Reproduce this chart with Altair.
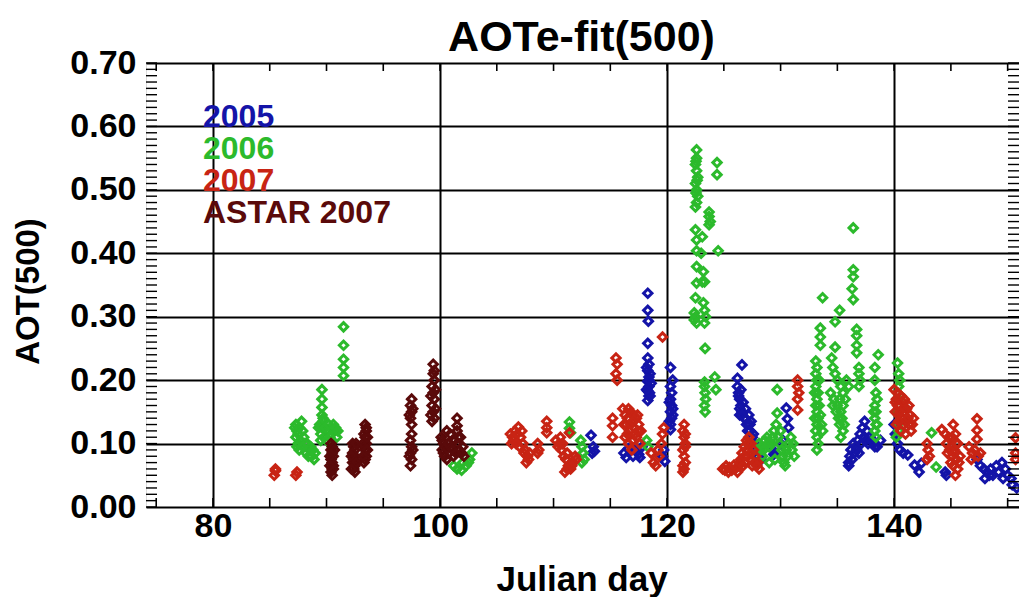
import altair as alt
import pandas as pd

# ---------------- data (Julian day, AOT(500)) ----------------
y2005_day = [113.3, 113.5, 113.6, 113.4,
             116.2, 116.4, 116.6, 117.0, 117.2, 117.5, 117.8, 117.6,
             118.3, 118.3, 118.35, 118.3, 118.3, 118.4, 118.3, 118.4, 118.3, 118.4, 118.3, 118.4, 118.3, 118.5, 118.6, 118.5,
             119.6, 119.7, 119.8,
             120.3, 120.5, 120.3, 120.4, 120.3, 120.4, 120.3, 120.4, 120.3, 120.3,
             126.6, 126.2, 126.2, 126.3, 126.4, 126.5, 126.6, 126.8, 127.0, 127.3, 127.5, 127.7, 127.9, 126.4, 126.9, 127.2, 127.4, 128.0, 128.3,
             129.3, 129.4, 130.5, 130.6, 130.7, 130.0, 130.2,
             136.0, 136.1, 136.2, 136.4, 136.6, 136.8, 137.0, 137.2, 137.4, 137.6, 137.9, 138.2, 138.5, 138.8, 136.5, 137.5, 136.0,
             140.0, 140.1, 140.3, 140.5, 140.8, 141.2, 141.8, 142.4, 142.2,
             144.6, 144.5,
             147.3, 147.6, 147.9, 148.2, 148.0, 148.5, 149.0, 149.5, 149.8, 150.0, 150.4, 150.3, 150.8]
y2005_aot = [0.113, 0.095, 0.088, 0.085,
             0.085, 0.078, 0.092, 0.080, 0.090, 0.083, 0.095, 0.078,
             0.337, 0.310, 0.293, 0.258, 0.235, 0.225, 0.215, 0.205, 0.198, 0.190, 0.183, 0.175, 0.168, 0.210, 0.195, 0.175,
             0.080, 0.090, 0.072,
             0.220, 0.200, 0.190, 0.180, 0.170, 0.160, 0.150, 0.140, 0.130, 0.122,
             0.224, 0.203, 0.190, 0.180, 0.170, 0.160, 0.150, 0.140, 0.130, 0.120, 0.110, 0.100, 0.090, 0.145, 0.155, 0.145, 0.135, 0.080, 0.075,
             0.090, 0.083, 0.156, 0.139, 0.125, 0.100, 0.105,
             0.070, 0.080, 0.090, 0.100, 0.095, 0.105, 0.115, 0.125, 0.135, 0.120, 0.110, 0.100, 0.095, 0.105, 0.085, 0.105, 0.065,
             0.130, 0.115, 0.100, 0.090, 0.085, 0.082, 0.066, 0.069, 0.055,
             0.050, 0.055,
             0.075, 0.065, 0.060, 0.055, 0.045, 0.060, 0.065, 0.070, 0.060, 0.050, 0.035, 0.045, 0.030]
y2005_day_b = [118.2, 118.45, 118.2, 118.4, 120.2, 120.5, 120.2, 120.5,
               126.3, 126.5, 126.7, 126.9, 127.1, 127.3, 127.6, 126.4, 126.6,
               136.3, 136.7, 137.1, 137.3, 137.7, 138.0, 138.3, 136.9,
               148.7, 149.2, 149.6, 148.4]
y2005_aot_b = [0.220, 0.180, 0.185, 0.200, 0.165, 0.155, 0.135, 0.145,
               0.175, 0.185, 0.165, 0.140, 0.120, 0.130, 0.115, 0.155, 0.145,
               0.075, 0.090, 0.100, 0.110, 0.100, 0.105, 0.095, 0.085,
               0.050, 0.055, 0.045, 0.050]

y2006_day = [87.3, 87.4, 87.3, 87.5, 87.6, 87.8, 87.7,
             88.3, 88.5, 88.7, 88.9, 88.6,
             89.6, 89.6, 89.6, 89.6, 89.7, 89.6,
             89.3, 89.5, 89.8, 90.1, 90.4, 90.7, 90.9, 90.5,
             91.5, 91.5, 91.5, 91.5, 91.5,
             101.2, 101.5, 101.9, 102.3, 102.6, 102.8, 102.5, 102.0,
             111.4, 111.4, 111.5, 112.4, 112.5, 112.6, 112.7, 112.5,
             118.2, 118.3,
             122.6, 122.6, 122.5, 122.6, 122.7, 122.5, 122.6, 122.7, 122.6, 122.5,
             124.4, 124.4, 123.7, 123.7, 123.8, 123.7,
             122.5, 122.6, 123.1, 122.6, 123.0, 124.5, 122.6, 123.2, 123.3, 122.6, 123.1, 122.5, 123.2,
             122.4, 122.5, 122.4, 122.6, 123.3, 123.4, 123.3, 123.35,
             123.3, 123.3, 123.35, 123.4, 123.3, 123.35, 124.2, 124.3,
             128.1, 128.2, 128.4, 128.6, 128.8, 129.0, 129.2, 129.4, 129.6, 129.7, 129.7, 129.8, 130.0, 130.2, 130.3, 130.5, 130.7, 130.9, 131.0, 131.2, 129.5, 129.0, 130.4,
             133.1, 133.2, 133.1, 133.2, 133.1, 133.3, 133.2, 133.1, 133.2, 133.3, 133.2, 133.1, 133.2, 133.3, 133.2, 133.6, 133.7, 133.5,
             133.7, 133.5, 133.5, 133.5,
             134.8, 135.2, 134.8, 134.5, 134.6, 134.8, 135.0, 135.3, 135.5, 135.2, 135.0, 135.3, 135.4, 135.2, 135.5, 135.3, 134.4, 134.6, 135.8, 136.0,
             136.4, 136.4, 136.4, 136.3, 136.4, 136.7, 136.7, 136.7, 136.7, 136.9, 136.9, 137.0, 136.9,
             138.6, 138.3, 138.3, 138.4, 138.3, 138.4, 138.3, 138.4, 138.3, 138.4,
             140.3, 140.4, 140.5, 140.4, 140.3, 140.4, 140.2, 140.3, 140.4, 140.2,
             143.3, 143.7]
y2006_aot = [0.130, 0.120, 0.110, 0.100, 0.090, 0.135, 0.105,
             0.100, 0.090, 0.080, 0.075, 0.095,
             0.185, 0.170, 0.157, 0.145, 0.135, 0.125,
             0.125, 0.115, 0.110, 0.120, 0.115, 0.120, 0.110, 0.105,
             0.284, 0.255, 0.233, 0.220, 0.207,
             0.065, 0.060, 0.058, 0.065, 0.075, 0.085, 0.070, 0.070,
             0.134, 0.124, 0.117, 0.105, 0.095, 0.085, 0.075, 0.070,
             0.105, 0.095,
             0.563, 0.550, 0.540, 0.530, 0.520, 0.510, 0.500, 0.490, 0.480, 0.473,
             0.543, 0.524, 0.465, 0.458, 0.450, 0.445,
             0.437, 0.421, 0.426, 0.404, 0.400, 0.404, 0.379, 0.371, 0.355, 0.353, 0.355, 0.330, 0.322,
             0.306, 0.300, 0.295, 0.290, 0.310, 0.300, 0.290, 0.250,
             0.197, 0.190, 0.180, 0.170, 0.160, 0.150, 0.205, 0.185,
             0.100, 0.090, 0.080, 0.105, 0.110, 0.095, 0.100, 0.120, 0.130, 0.148, 0.185, 0.110, 0.120, 0.080, 0.070, 0.090, 0.100, 0.110, 0.090, 0.080, 0.075, 0.070, 0.065,
             0.230, 0.220, 0.210, 0.200, 0.190, 0.180, 0.170, 0.160, 0.150, 0.140, 0.130, 0.120, 0.110, 0.100, 0.090, 0.130, 0.120, 0.145,
             0.330, 0.282, 0.268, 0.255,
             0.292, 0.310, 0.252, 0.235, 0.220, 0.210, 0.200, 0.190, 0.180, 0.170, 0.160, 0.150, 0.140, 0.130, 0.120, 0.110, 0.180, 0.160, 0.200, 0.190,
             0.440, 0.374, 0.363, 0.344, 0.327, 0.280, 0.270, 0.255, 0.243, 0.220, 0.210, 0.200, 0.190,
             0.240, 0.220, 0.200, 0.180, 0.160, 0.150, 0.140, 0.130, 0.120, 0.110,
             0.227, 0.210, 0.200, 0.190, 0.180, 0.170, 0.150, 0.130, 0.120, 0.110,
             0.117, 0.063]
y2006_day_b = [87.2, 87.5, 87.6, 87.9, 88.0, 88.1, 88.2, 88.4, 88.8, 89.0, 87.4, 87.9,
               89.4, 89.7, 89.9, 90.2, 90.6, 90.8, 91.0, 89.5, 90.0, 90.3,
               133.4, 133.4, 133.0, 133.0, 134.9, 135.1, 135.5, 135.6, 134.7, 135.7,
               128.3, 128.9, 129.3, 129.9, 130.1, 130.6, 131.1, 128.5,
               138.5, 138.2, 138.5, 122.55, 122.65, 122.55]
y2006_aot_b = [0.125, 0.115, 0.125, 0.120, 0.110, 0.100, 0.085, 0.080, 0.090, 0.085, 0.095, 0.095,
               0.130, 0.140, 0.125, 0.130, 0.130, 0.125, 0.120, 0.105, 0.105, 0.110,
               0.160, 0.200, 0.140, 0.180, 0.150, 0.140, 0.160, 0.130, 0.170, 0.170,
               0.095, 0.100, 0.110, 0.100, 0.090, 0.080, 0.100, 0.090,
               0.170, 0.150, 0.130, 0.545, 0.515, 0.495]

y2007_day = [85.4, 85.5, 85.5, 87.3, 87.4,
             106.2, 106.3, 106.6, 106.9, 107.1, 107.3, 107.5, 107.7, 107.6, 107.9, 106.5, 107.0,
             108.6, 108.7, 108.6,
             109.4, 109.4, 109.4,
             110.2, 110.5, 110.7, 110.9, 111.1, 111.3, 111.0, 111.5, 111.7, 111.9, 112.0, 110.6, 111.4,
             115.2, 115.2, 115.2,
             115.5, 115.6, 115.5, 115.6,
             116.1, 116.3, 116.5, 116.8, 117.0, 117.3, 116.4, 116.7, 117.1, 117.5, 116.3, 116.6, 117.0, 117.3, 117.7, 117.6, 116.9,
             119.6,
             118.6, 118.8, 119.0, 119.3, 119.5, 119.6, 119.7, 119.2,
             121.5, 121.4, 121.5, 121.6, 121.4, 121.5, 121.6, 121.5, 121.4,
             124.9, 125.1, 125.4, 125.7, 126.0, 126.3, 126.5, 126.6, 126.8, 127.0, 127.2, 127.4, 127.6, 127.8, 128.0, 128.1, 126.9, 127.3, 127.5, 126.2,
             131.5, 131.5, 131.6, 131.5, 131.5,
             140.0, 140.3, 140.6, 140.2, 140.5, 140.8, 141.1, 140.1, 140.4, 140.7, 141.0, 141.3, 140.2, 140.6, 141.0, 141.5, 141.7, 140.9, 141.4,
             142.9, 143.0, 143.1, 142.9,
             145.2, 144.2, 144.5, 144.8, 145.1, 145.4, 144.6, 145.0, 145.3, 145.6, 144.7, 145.1, 145.5, 145.8, 145.2, 145.6, 145.4,
             147.3, 147.3, 147.3, 146.6, 146.9, 147.1, 147.4, 146.8, 147.6,
             150.7, 150.7, 150.7]
y2007_aot = [0.050, 0.057, 0.060, 0.050, 0.055,
             0.115, 0.100, 0.120, 0.126, 0.110, 0.100, 0.090, 0.080, 0.070, 0.085, 0.105, 0.095,
             0.100, 0.090, 0.085,
             0.135, 0.125, 0.117,
             0.105, 0.100, 0.090, 0.080, 0.075, 0.065, 0.055, 0.060, 0.070, 0.080, 0.075, 0.110, 0.117,
             0.140, 0.128, 0.110,
             0.235, 0.225, 0.210, 0.200,
             0.155, 0.145, 0.140, 0.150, 0.145, 0.140, 0.130, 0.120, 0.125, 0.130, 0.110, 0.100, 0.105, 0.110, 0.120, 0.100, 0.090,
             0.268,
             0.085, 0.070, 0.065, 0.080, 0.100, 0.115, 0.125, 0.090,
             0.130, 0.120, 0.110, 0.100, 0.090, 0.080, 0.070, 0.060, 0.055,
             0.060, 0.058, 0.055, 0.058, 0.060, 0.065, 0.075, 0.085, 0.095, 0.105, 0.110, 0.100, 0.090, 0.080, 0.070, 0.060, 0.070, 0.075, 0.065, 0.055,
             0.200, 0.190, 0.180, 0.170, 0.153,
             0.185, 0.180, 0.175, 0.170, 0.160, 0.165, 0.155, 0.150, 0.145, 0.140, 0.135, 0.130, 0.130, 0.120, 0.115, 0.120, 0.140, 0.150, 0.145,
             0.100, 0.090, 0.080, 0.075,
             0.130, 0.122, 0.115, 0.110, 0.110, 0.115, 0.100, 0.095, 0.090, 0.100, 0.085, 0.080, 0.075, 0.080, 0.065, 0.060, 0.050,
             0.139, 0.121, 0.107, 0.095, 0.085, 0.090, 0.080, 0.075, 0.085,
             0.109, 0.085, 0.075]
y2007_day_b = [106.4, 106.8, 107.2, 107.4, 107.8, 106.7,
               110.8, 111.2, 111.6, 111.2, 110.4,
               116.2, 116.5, 116.8, 117.2, 117.4, 117.0, 116.6, 117.4,
               121.6, 121.4, 121.6,
               125.2, 125.5, 125.9, 126.4, 126.7, 127.1, 127.0, 127.4, 127.7, 126.8, 127.1, 127.9,
               140.3, 140.5, 140.8, 141.2, 141.6, 140.4, 140.9, 141.3, 140.1,
               145.0, 145.3, 145.7, 144.9, 145.5]
y2007_aot_b = [0.110, 0.115, 0.120, 0.085, 0.075, 0.100,
               0.100, 0.085, 0.065, 0.060, 0.095,
               0.130, 0.115, 0.130, 0.115, 0.120, 0.135, 0.155, 0.145,
               0.095, 0.065, 0.115,
               0.065, 0.062, 0.066, 0.070, 0.065, 0.080, 0.090, 0.085, 0.070, 0.080, 0.100, 0.065,
               0.160, 0.150, 0.130, 0.140, 0.130, 0.135, 0.170, 0.160, 0.165,
               0.070, 0.085, 0.070, 0.090, 0.100]

astar_day = [90.4, 90.5, 90.4, 90.5, 90.6, 90.4, 90.5, 90.6, 90.5, 90.4, 90.5,
             92.3, 92.4, 92.5, 92.3, 92.5, 92.4, 92.3, 92.5, 92.4, 92.5,
             93.4, 93.5, 93.3, 93.4, 93.5, 93.3, 93.4, 93.5, 93.4, 93.3,
             97.5, 97.4, 97.5, 97.4, 97.5, 97.5, 97.4, 97.5, 97.4, 97.5, 97.4,
             99.4, 99.4, 99.5, 99.3, 99.4, 99.5, 99.3, 99.4, 99.5, 99.3,
             100.1, 100.3, 100.2, 100.4, 100.6, 100.8, 101.0, 101.3, 101.5, 101.7, 101.9, 102.1, 101.2, 100.6, 101.5, 101.5, 101.5, 100.9, 101.8]
astar_aot = [0.100, 0.095, 0.090, 0.085, 0.080, 0.075, 0.070, 0.065, 0.060, 0.055, 0.050,
             0.100, 0.095, 0.090, 0.085, 0.080, 0.075, 0.070, 0.065, 0.060, 0.055,
             0.130, 0.120, 0.115, 0.110, 0.100, 0.095, 0.090, 0.080, 0.075, 0.070,
             0.170, 0.160, 0.150, 0.140, 0.130, 0.115, 0.105, 0.095, 0.085, 0.075, 0.065,
             0.225, 0.210, 0.200, 0.190, 0.180, 0.170, 0.160, 0.150, 0.140, 0.135,
             0.110, 0.100, 0.090, 0.080, 0.075, 0.085, 0.095, 0.105, 0.100, 0.090, 0.085, 0.080, 0.080, 0.120, 0.120, 0.140, 0.128, 0.115, 0.110]
astar_day_b = [90.3, 90.7, 90.6, 90.3, 92.2, 92.6, 92.6, 92.2,
               93.2, 93.6, 93.6, 93.2, 93.5, 97.6, 97.3, 97.6, 97.3,
               99.6, 99.2, 99.6, 99.2, 99.5,
               100.2, 100.5, 100.7, 101.1, 101.4, 101.6, 102.0, 100.3]
astar_aot_b = [0.080, 0.090, 0.060, 0.065, 0.080, 0.070, 0.100, 0.060,
               0.100, 0.110, 0.090, 0.080, 0.125, 0.155, 0.145, 0.090, 0.080,
               0.185, 0.175, 0.155, 0.145, 0.215,
               0.105, 0.095, 0.100, 0.090, 0.085, 0.110, 0.095, 0.085]

series_names = ["2005", "2006", "2007", "ASTAR 2007"]
series_colors = ["#1414a8", "#2cba2c", "#c82414", "#5a0a0a"]
title_text = "AOTe-fit(500)"

x_grid = [80, 100, 120, 140]
y_grid = [0.0, 0.1, 0.2, 0.3, 0.4, 0.5, 0.6, 0.7]
x_minor = [75, 80, 85, 90, 95, 100, 105, 110, 115, 120, 125, 130, 135, 140, 145, 150]
y_minor = [round(i * 0.01, 2) for i in range(0, 71)]

X_DOMAIN = [74.1, 151.0]
Y_DOMAIN = [0.0, 0.70]
W, H = 873, 444
FONT = "Liberation Sans"

frames = []
for name, xs, ys in zip(series_names,
                        [y2005_day + y2005_day_b, y2006_day + y2006_day_b,
                         y2007_day + y2007_day_b, astar_day + astar_day_b],
                        [y2005_aot + y2005_aot_b, y2006_aot + y2006_aot_b,
                         y2007_aot + y2007_aot_b, astar_aot + astar_aot_b]):
    frames.append(pd.DataFrame({"day": xs, "aot": ys, "series": name}))
df = pd.concat(frames, ignore_index=True)

xscale = alt.Scale(domain=X_DOMAIN, nice=False, zero=False)
yscale = alt.Scale(domain=Y_DOMAIN, nice=False, zero=False)
color_scale = alt.Scale(domain=series_names, range=series_colors)

points = alt.Chart(df).mark_point(
    shape="diamond", filled=False, size=70, strokeWidth=3.0, opacity=1, clip=True
).encode(
    x=alt.X("day:Q", scale=xscale,
            axis=alt.Axis(values=x_grid, grid=True, gridColor="black", gridWidth=2,
                          gridOpacity=1, ticks=False, domain=False,
                          labelFont=FONT, labelFontWeight="bold", labelFontSize=34,
                          labelColor="black", labelPadding=29, labelBaseline="alphabetic",
                          title="Julian day", titleFont=FONT, titleFontWeight="bold",
                          titleFontSize=35, titleColor="black",
                          titleX=W / 2 - 1, titleY=83, titleAlign="center",
                          titleBaseline="alphabetic")),
    y=alt.Y("aot:Q", scale=yscale,
            axis=alt.Axis(values=y_grid, format=".2f", grid=True, gridColor="black", gridWidth=2,
                          gridOpacity=1, ticks=False, domain=False,
                          labelFont=FONT, labelFontWeight="bold", labelFontSize=34,
                          labelColor="black", labelPadding=10, labelBaseline="middle",
                          title="AOT(500)", titleFont=FONT, titleFontWeight="bold",
                          titleFontSize=33, titleColor="black", titleAngle=270,
                          titleX=-118, titleY=228, titleAlign="center", titleBaseline="middle")),
    color=alt.Color("series:N", scale=color_scale, legend=None),
)

ymin_df = pd.DataFrame({"v": y_minor})
xmin_df = pd.DataFrame({"v": x_minor})

left_ticks = alt.Chart(ymin_df).mark_rule(color="black", strokeWidth=1.4).encode(
    y=alt.Y("v:Q", scale=yscale), x=alt.value(0), x2=alt.value(11))
right_ticks = alt.Chart(ymin_df).mark_rule(color="black", strokeWidth=1.4).encode(
    y=alt.Y("v:Q", scale=yscale), x=alt.value(W - 11), x2=alt.value(W))
bottom_ticks = alt.Chart(xmin_df).mark_rule(color="black", strokeWidth=1.6, clip=True).encode(
    x=alt.X("v:Q", scale=xscale), y=alt.value(H), y2=alt.value(H - 9))
top_ticks = alt.Chart(xmin_df).mark_rule(color="black", strokeWidth=1.6, clip=True).encode(
    x=alt.X("v:Q", scale=xscale), y=alt.value(0), y2=alt.value(8))

legend_y = [64, 96, 128, 160]
legend_layers = []
for name, col, yy in zip(series_names, series_colors, legend_y):
    legend_layers.append(
        alt.Chart(pd.DataFrame({"t": [name]})).mark_text(
            font=FONT, fontWeight="bold", fontSize=32, color=col, align="left",
            baseline="alphabetic"
        ).encode(text="t:N", x=alt.value(57), y=alt.value(yy))
    )

title_mark = alt.Chart(pd.DataFrame({"t": [title_text]})).mark_text(
    font=FONT, fontWeight="bold", fontSize=43, color="black", align="center",
    baseline="alphabetic"
).encode(text="t:N", x=alt.value(W / 2 - 1), y=alt.value(-12))

chart = alt.layer(
    points, left_ticks, right_ticks, bottom_ticks, top_ticks, title_mark, *legend_layers
).properties(
    width=W, height=H,
    autosize=alt.AutoSizeParams(type="none"),
    padding={"left": 146, "top": 63, "right": 0, "bottom": 90},
).configure_view(stroke="black", strokeWidth=2).configure(background="white")

chart.save("out.html", embed_options={"renderer": "svg", "actions": False})
